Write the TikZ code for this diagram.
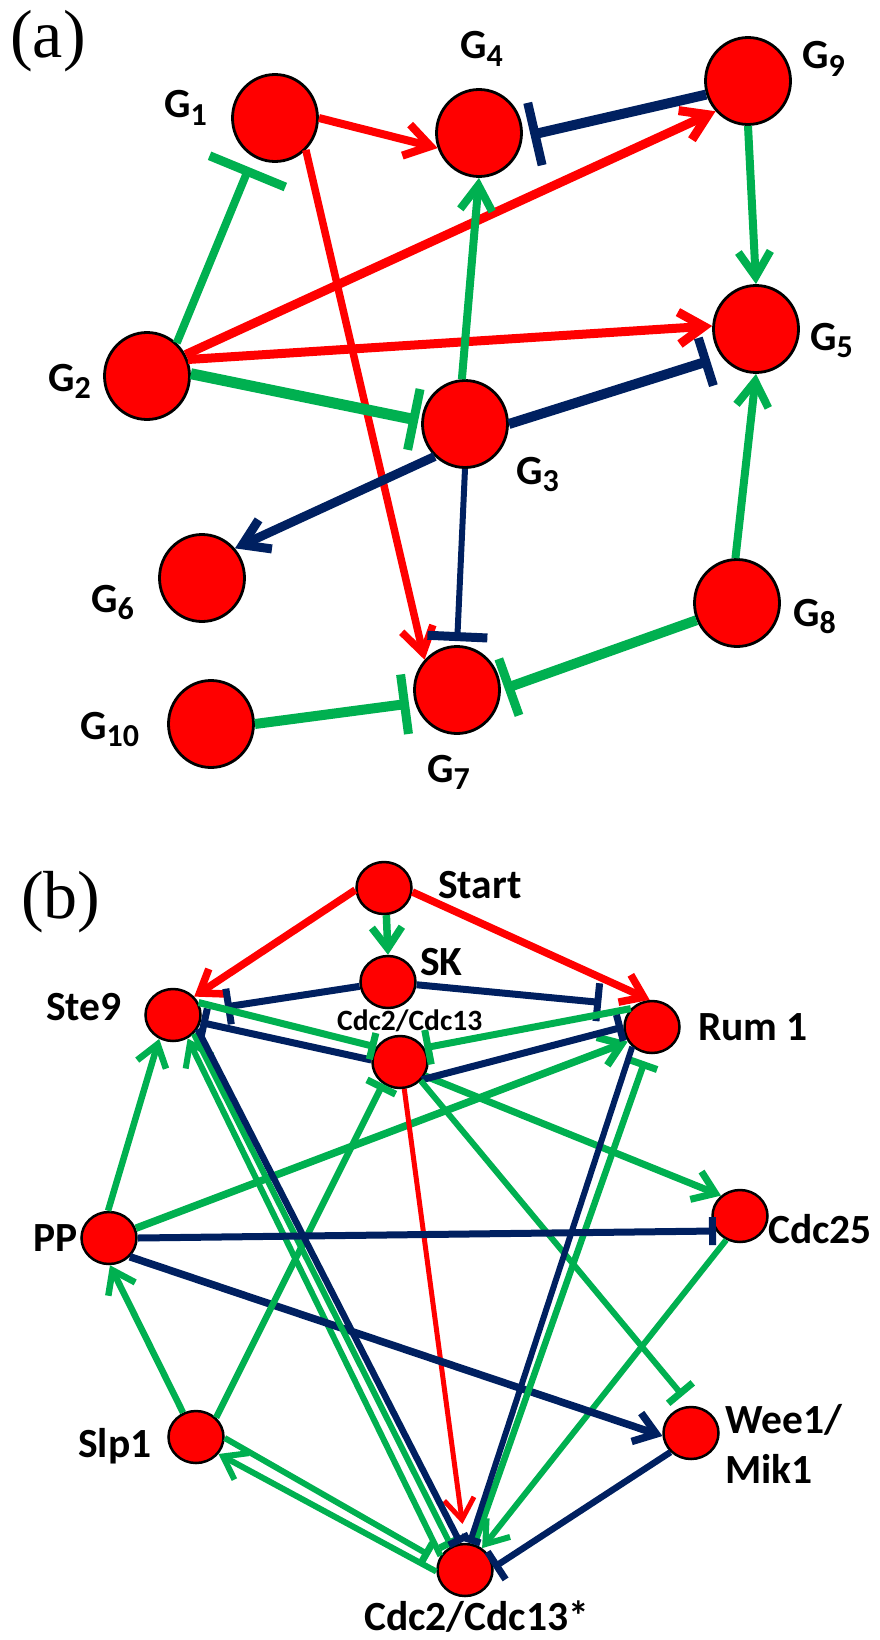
\documentclass[tikz,border=0pt]{standalone}
\usepackage{fontspec}
\setmainfont{Carlito}
\newfontfamily\panelfont{Liberation Serif}
\usetikzlibrary{shapes.geometric,arrows.meta}

\definecolor{netred}{HTML}{FF0000}
\definecolor{netgreen}{HTML}{00B050}
\definecolor{netblue}{HTML}{002060}

\newcommand\labfont{\fontsize{41.5}{48}\selectfont\bfseries}
\newcommand\smalllabfont{\fontsize{29.5}{34}\selectfont\bfseries}
\newcommand\gsub[1]{\raisebox{-7.5pt}{\fontsize{32}{34}\selectfont#1}}

\tikzset{
  gnode/.style={ellipse, draw=black, line width=2.8pt, fill=netred,
                minimum width=85pt, minimum height=87pt, inner sep=0pt},
  bnode/.style={ellipse, draw=black, line width=2.5pt, fill=netred,
                minimum width=55pt, minimum height=52pt, inner sep=0pt},
  lbl/.style={anchor=base west, inner sep=0pt, font=\labfont},
  panel/.style={anchor=base west, inner sep=0pt,
                font=\panelfont\fontsize{68}{74}\selectfont},
  ra/.style={draw=netred},
  ga/.style={draw=netgreen},
  ba/.style={draw=netblue},
  acta/.style={-{Straight Barb[length=25pt,width=32pt]}},
  actb/.style={-{Straight Barb[length=21pt,width=30pt]}},
  inha/.style={-{Bar[width=#1,line width'=9pt]}},
  inhb/.style={-{Bar[width=#1,line width'=7pt]}},
  inhb/.default=32pt
}

\begin{document}
\begin{tikzpicture}[x=1pt,y=-1pt]
\useasboundingbox (0,0) rectangle (880,1640);

% ---------------- panel (a) ----------------
\node[panel] (pa) at (10,58) {(a)};

\node[gnode] (G1)  at (275,118) {};
\node[gnode] (G4)  at (479,133) {};
\node[gnode] (G9)  at (748,81)  {};
\node[gnode] (G2)  at (147,376) {};
\node[gnode] (G5)  at (756,329) {};
\node[gnode] (G3)  at (465,424) {};
\node[gnode] (G6)  at (202,578) {};
\node[gnode] (G8)  at (737,603) {};
\node[gnode] (G7)  at (457,690) {};
\node[gnode] (G10) at (211,724) {};

\node[lbl] (lG1)  at (164,118) {G\gsub{1}};
\node[lbl] (lG4)  at (460,59)  {G\gsub{4}};
\node[lbl] (lG9)  at (802,69)  {G\gsub{9}};
\node[lbl] (lG2)  at (48,391)  {G\gsub{2}};
\node[lbl] (lG5)  at (810,350) {G\gsub{5}};
\node[lbl] (lG3)  at (516,484) {G\gsub{3}};
\node[lbl] (lG6)  at (91,612)  {G\gsub{6}};
\node[lbl] (lG8)  at (793,626) {G\gsub{8}};
\node[lbl] (lG7)  at (427,782) {G\gsub{7}};
\node[lbl] (lG10) at (80,739)  {G\gsub{10}};

% activations
\draw[ra, acta, line width=8pt]   (G1.east) -- (G4.-160);
\draw[ra, acta, line width=7.5pt] (G1.-46) -- (G7.137);
\draw[ra, acta, line width=9pt]   (G2.29) -- (G9.-137);
\draw[ra, acta, line width=9pt]   (G2.22) -- (G5.176);
\draw[ga, acta, line width=8pt]   (G3.94) -- (G4.-90);
\draw[ga, acta, line width=8pt]   (G9.-90) -- (G5.90);
\draw[ga, acta, line width=8pt]   (G8.92) -- (G5.-90);
\draw[ba, acta, line width=9pt]   (G3.-133) -- (G6.42);
% inhibitions
\draw[ga, inha=82pt, line width=8pt,  shorten >=11pt] (G2.48) -- (G1.-119);
\draw[ga, inha=62pt, line width=11pt, shorten >=3pt]  (G2.3) -- (G3.176);
\draw[ba, inha=64pt, line width=10pt, shorten >=8pt]  (G9.-162) -- (G4.-5);
\draw[ba, inha=50pt, line width=10pt, shorten >=12pt] (G3.0) -- (G5.-141);
\draw[ba, inha=60pt, line width=6pt,  shorten >=4pt]  (G3.-90) -- (G7.90);
\draw[ga, inha=60pt, line width=10pt, shorten >=4pt]  (G8.-157) -- (G7.0);
\draw[ga, inha=60pt, line width=10pt, shorten >=6pt]  (G10.0) -- (G7.-163);

% ---------------- panel (b) ----------------
\node[panel] (pb) at (21,918) {(b)};

\node[bnode] (Start) at (384,888)  {};
\node[bnode] (SK)    at (388,982)  {};
\node[bnode] (Ste9)  at (173,1015) {};
\node[bnode] (M)     at (400,1062) {};
\node[bnode] (Rum1)  at (652,1027) {};
\node[bnode] (Cdc25) at (740,1216) {};
\node[bnode] (PP)    at (109,1238) {};
\node[bnode] (Slp1)  at (196,1437) {};
\node[bnode] (Wee1)  at (691,1433) {};
\node[bnode] (Bot)   at (465,1570) {};

\node[lbl] (lStart) at (438,898)  {Start};
\node[lbl] (lSK)    at (420,975)  {SK};
\node[lbl] (lSte9)  at (46,1020)  {Ste9};
\node[anchor=base west, inner sep=0pt, font=\smalllabfont] (lM) at (337,1030) {Cdc2/Cdc13};
\node[lbl] (lRum1)  at (698,1040) {Rum 1};
\node[lbl] (lCdc25) at (768,1243) {Cdc25};
\node[lbl] (lPP)    at (33,1251)  {PP};
\node[lbl] (lSlp1)  at (78,1457)  {Slp1};
\node[lbl] (lWee1)  at (725,1433) {Wee1/};
\node[lbl] (lMik1)  at (725,1483) {Mik1};
\node[lbl] (lBot)   at (364,1630) {Cdc2/Cdc13*};

% activations
\draw[ra, actb, line width=7.5pt] (Start.184) -- (Ste9.41);
\draw[ra, actb, line width=7.5pt] (Start.-8) -- (Rum1.95);
\draw[ga, actb, line width=7.5pt] (Start.-85) -- (SK.90);
\draw[ga, actb, line width=7.5pt] (PP.20) -- (Rum1.-149);
\draw[ga, actb, line width=7pt]   (M.-29) -- (Cdc25.133);
\draw[ra, actb, line width=5pt, shorten >=19pt] (M.-81) -- (Bot.90);
\draw[ga, actb, line width=6.5pt] (Slp1.118) -- (PP.-88);
\draw[ga, actb, line width=6.5pt] (PP.92) -- (Ste9.-120);
\draw[ga, actb, line width=6pt]   (Bot.150) -- (Ste9.-58);
\draw[ga, actb, line width=6pt]   (Bot.183) -- (Slp1.-37);
\draw[ga, actb, line width=6pt]   (Cdc25.-120) -- (Bot.52);
\draw[ba, actb, line width=7.5pt] (PP.-42) -- (Wee1.186);
% inhibitions
\draw[ba, inhb=36pt, line width=7pt, shorten >=24pt] (SK) -- (Ste9);
\draw[ba, inhb=38pt, line width=7pt, shorten >=33pt] (SK) -- (Rum1.130);
\draw[ba, inhb=30pt, line width=7pt] (M.176) -- (Ste9.-15);
\draw[ga, inhb=27pt, line width=7pt] (Ste9.26) -- (M.148);
\draw[ga, inhb=35pt, line width=7pt] (Rum1.139) -- (M.30);
\draw[ba, inhb=27pt, line width=7pt] (M.-39) -- (Rum1.180);
\draw[ga, inhb=32pt, line width=6.5pt] (Slp1.44) -- (M.-128);
\draw[ga, inhb=32pt, line width=6pt, shorten >=13pt] (M.-42) -- (Wee1.90);
\draw[ga, inhb=22pt, line width=6pt] (Ste9.-42) -- (Bot.120);
\draw[ba, inhb=22pt, line width=6.5pt] (Ste9.-30) -- (Bot.100);
\draw[ga, inhb=24pt, line width=6pt, shorten >=10pt] (Slp1.-2) -- (Bot.160);
\draw[ga, inhb=29pt, line width=6.5pt, shorten >=8pt] (Bot.70) -- (Rum1.-100);
\draw[ba, inhb=20pt, line width=6pt] (Rum1.-135) -- (Bot.80);
\draw[ba, inhb=33pt, line width=6.5pt] (Wee1.-137) -- (Bot.5);
\draw[ba, inhb=28pt, line width=7pt] (PP.0) -- (Cdc25.-148);
\end{tikzpicture}
\end{document}
